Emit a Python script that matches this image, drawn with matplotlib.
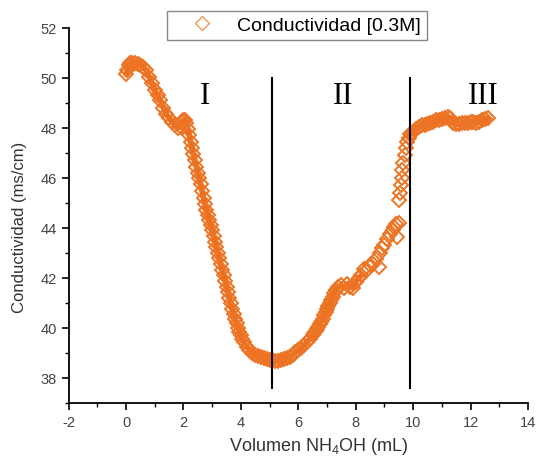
import numpy as np
import matplotlib
matplotlib.use("Agg")
import matplotlib.pyplot as plt
from matplotlib.ticker import MultipleLocator

plt.rcParams['font.family'] = ['Liberation Sans', 'DejaVu Sans']
plt.rcParams['mathtext.default'] = 'regular'
plt.rcParams['axes.unicode_minus'] = False

# volumen NH4OH (mL) vs conductividad (ms/cm)
volumen = [0.0, 0.05, 0.1, 0.15, 0.2, 0.3, 0.4, 0.5, 0.6, 0.7, 0.8, 0.9,
           1.0, 1.1, 1.2, 1.3, 1.4, 1.5, 1.6, 1.7, 1.8, 1.9, 1.95, 2.0, 2.05, 2.1, 2.15,
           2.2, 2.25, 2.3, 2.35, 2.4, 2.45, 2.5, 2.55, 2.6, 2.65, 2.7, 2.75, 2.8, 2.85,
           2.9, 2.95, 3.0, 3.05, 3.1, 3.15, 3.2, 3.25, 3.3, 3.35, 3.4, 3.45, 3.5, 3.55,
           3.6, 3.65, 3.7, 3.75, 3.8, 3.85, 3.9, 3.95, 4.0, 4.05, 4.1, 4.2, 4.3, 4.4,
           4.5, 4.6, 4.7, 4.8, 4.9, 5.0, 5.1, 5.2, 5.3, 5.4, 5.5, 5.6, 5.7, 5.8, 5.9,
           6.0, 6.1, 6.2, 6.3, 6.4, 6.5, 6.55, 6.6, 6.65, 6.7, 6.75, 6.8, 6.85, 6.9, 6.95,
           7.0, 7.05, 7.1, 7.15, 7.2, 7.25, 7.3, 7.4, 7.5, 7.6, 7.7, 7.8, 7.9,
           8.0, 8.1, 8.2, 8.3, 8.4, 8.5, 8.6, 8.7, 8.8, 8.85, 8.9, 9.0, 9.1, 9.2,
           9.3, 9.35, 9.4, 9.45, 9.5, 9.52, 9.55, 9.58, 9.6, 9.63, 9.66, 9.7, 9.75,
           9.8, 9.85, 9.9, 10.0, 10.1, 10.2, 10.3, 10.4, 10.5, 10.6, 10.7, 10.8, 10.9,
           11.0, 11.1, 11.2, 11.3, 11.4, 11.5, 11.6, 11.7, 11.8, 11.9, 12.0, 12.1,
           12.2, 12.3, 12.4, 12.5, 12.6]
conductividad = [50.15, 50.3, 50.5, 50.58, 50.6, 50.6, 50.57, 50.52, 50.45, 50.3, 50.05, 49.8,
                 49.5, 49.3, 49.1, 48.8, 48.55, 48.4, 48.25, 48.1, 48.0, 48.05, 48.25, 48.3, 48.3, 48.2, 47.95,
                 47.7, 47.45, 47.2, 46.95, 46.7, 46.45, 46.2, 45.98, 45.75, 45.48, 45.2, 44.95, 44.7, 44.5,
                 44.3, 44.1, 43.9, 43.68, 43.45, 43.22, 43.0, 42.78, 42.55, 42.32, 42.1, 41.88, 41.65, 41.42,
                 41.2, 40.98, 40.75, 40.55, 40.35, 40.18, 40.0, 39.85, 39.7, 39.57, 39.45, 39.25, 39.1, 39.0,
                 38.93, 38.87, 38.82, 38.78, 38.75, 38.72, 38.7, 38.68, 38.68, 38.7, 38.75, 38.8, 38.85, 38.93, 39.02,
                 39.1, 39.2, 39.3, 39.42, 39.55, 39.7, 39.78, 39.87, 39.96, 40.05, 40.15, 40.25, 40.37, 40.5, 40.62,
                 40.75, 40.87, 41.0, 41.12, 41.25, 41.38, 41.5, 41.65, 41.7, 41.6, 41.75, 41.65, 41.6,
                 41.85, 42.0, 42.1, 42.35, 42.3, 42.5, 42.55, 42.75, 42.45, 43.0, 43.2, 43.3, 43.55, 43.75,
                 43.9, 44.05, 44.15, 43.65, 44.2, 45.1, 45.4, 45.7, 46.0, 46.3, 46.6, 46.9, 47.2,
                 47.45, 47.6, 47.75, 47.85, 47.95, 48.05, 48.1, 48.1, 48.15, 48.2, 48.25, 48.3, 48.3,
                 48.35, 48.4, 48.45, 48.4, 48.2, 48.15, 48.15, 48.2, 48.2, 48.2, 48.25, 48.25,
                 48.2, 48.25, 48.3, 48.35, 48.4]

limites = [5.1, 9.9]          # separacion de regiones
regiones = ['I', 'II', 'III']
pos_regiones = [2.75, 7.55, 12.45]

naranja = '#ec7424'

vol = np.array(volumen)
cond = np.array(conductividad)

fig = plt.figure(figsize=(5.36, 4.6), dpi=100)
ax = fig.add_axes([0.128, 0.122, 0.857, 0.815])

# banda densa de puntos (donde los marcadores se solapan)
for m in [vol <= 8.2, vol >= 9.85]:
    ax.plot(vol[m], cond[m], color='#ea6e1c', linewidth=4, solid_capstyle='round',
            zorder=2)
ax.plot(vol, cond, linestyle='none', marker='D', markersize=7,
        markerfacecolor='none', markeredgecolor=naranja, markeredgewidth=1.4,
        label='Conductividad [0.3M]', zorder=3)

for xv in limites:
    ax.plot([xv, xv], [37.6, 50.0], color='black', linewidth=1.5, zorder=4)

for txt, xp in zip(regiones, pos_regiones):
    ax.text(xp, 49.3, txt, fontsize=22, family='Liberation Serif',
            ha='center', va='center', color='black')

ax.set_xlim(-2, 14)
ax.set_ylim(37, 52)
ax.xaxis.set_major_locator(MultipleLocator(2))
ax.xaxis.set_minor_locator(MultipleLocator(1))
ax.yaxis.set_major_locator(MultipleLocator(2))
ax.yaxis.set_minor_locator(MultipleLocator(1))
ax.spines['top'].set_visible(False)
ax.spines['right'].set_visible(False)
for s in ['left', 'bottom']:
    ax.spines[s].set_linewidth(1.3)
ax.tick_params(which='major', direction='out', length=5, width=1.2,
               labelsize=10.5, labelcolor='#444444')
ax.tick_params(which='minor', direction='out', length=3, width=1.0)

ax.set_xlabel('Volumen NH$_4$OH (mL)', fontsize=13, color='#333333')
ax.set_ylabel('Conductividad (ms/cm)', fontsize=12, color='#333333')
ax.xaxis.set_label_coords(0.545, -0.085)
ax.yaxis.set_label_coords(-0.09, 0.47)

leg = fig.legend(loc='upper center', bbox_to_anchor=(0.554, 0.975), fontsize=14,
                 fancybox=False, edgecolor='#888888', framealpha=1,
                 borderpad=0.3, handletextpad=0.3, handlelength=3.0, borderaxespad=0)
leg.get_frame().set_linewidth(1.0)
leg.get_lines()[0].set_markeredgecolor('#ee9a5e')
leg.get_lines()[0].set_markeredgewidth(1.0)

fig.savefig('out.png', dpi=100)
